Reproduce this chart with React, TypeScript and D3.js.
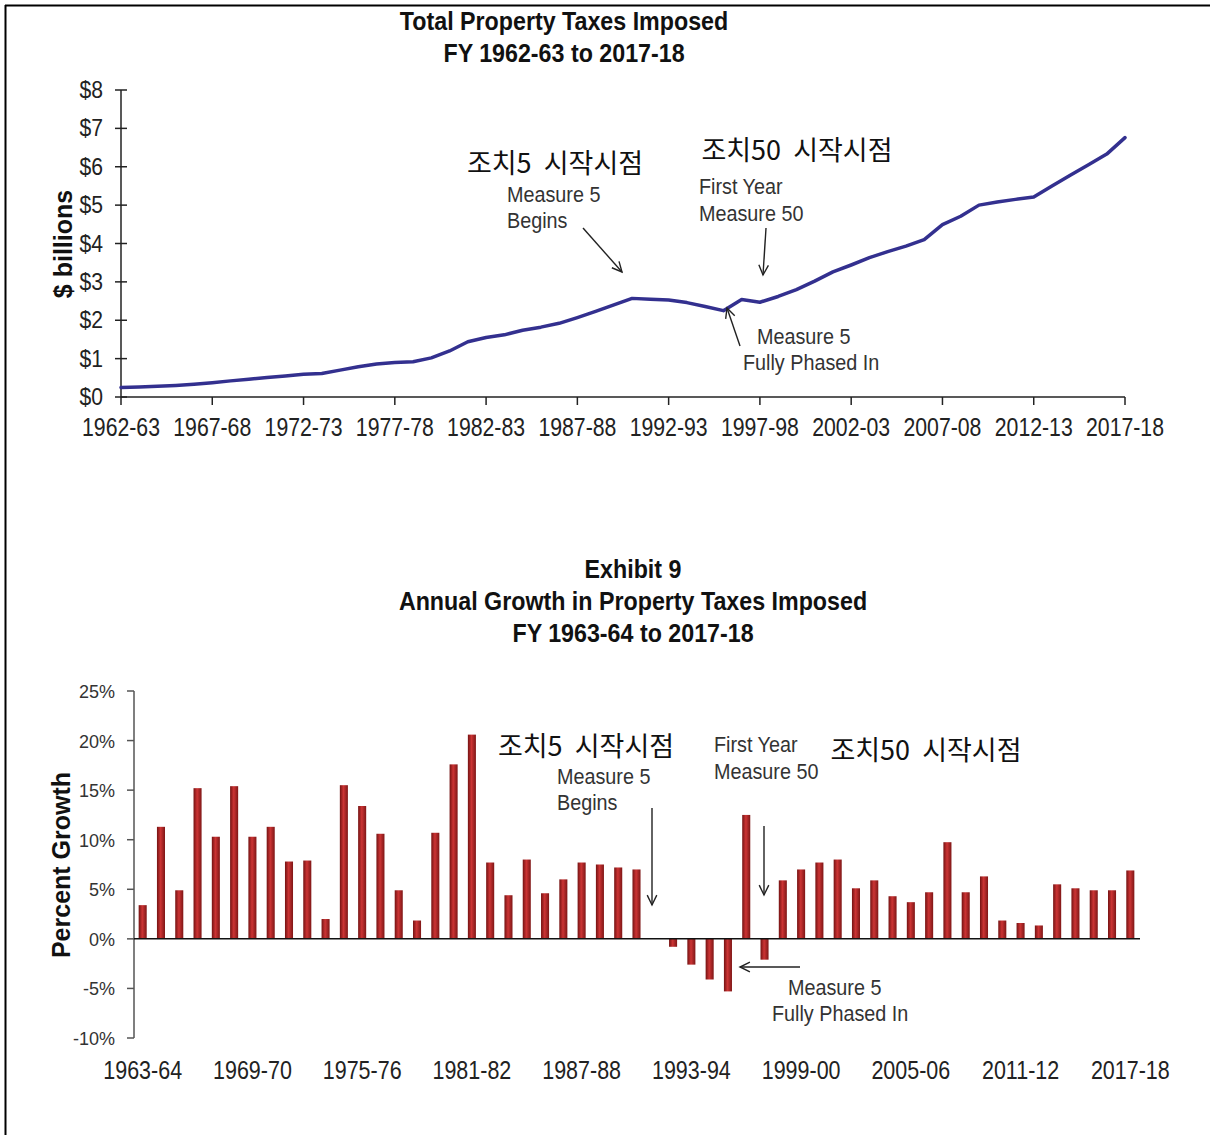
import React from "react";
import * as d3 from "d3";

// ---- Data ----
const totalYears: number[] = d3.range(1962, 2018);
const totalTaxes: number[] = [
  0.25, 0.26, 0.28, 0.3, 0.33, 0.37, 0.42, 0.46, 0.51, 0.55,
  0.59, 0.61, 0.7, 0.79, 0.86, 0.9, 0.92, 1.02, 1.2, 1.44,
  1.55, 1.62, 1.74, 1.82, 1.92, 2.07, 2.23, 2.4, 2.57, 2.55,
  2.53, 2.46, 2.36, 2.25, 2.54, 2.47, 2.62, 2.8, 3.02, 3.26,
  3.44, 3.63, 3.79, 3.93, 4.1, 4.49, 4.71, 5.0, 5.08, 5.15,
  5.21, 5.5, 5.78, 6.05, 6.33, 6.76,
];
const topTickYears: number[] = [1962, 1967, 1972, 1977, 1982, 1987, 1992, 1997, 2002, 2007, 2012, 2017];
const topYTicks: number[] = [0, 1, 2, 3, 4, 5, 6, 7, 8];

const growthYears: number[] = d3.range(1963, 2018);
const growthPct: number[] = [
  3.4, 11.3, 4.9, 15.2, 10.3, 15.4, 10.3, 11.3, 7.8, 7.9,
  2.0, 15.5, 13.4, 10.6, 4.9, 1.85, 10.7, 17.6, 20.6, 7.7,
  4.4, 8.0, 4.6, 6.0, 7.7, 7.5, 7.2, 7.0, 0.0, -0.8,
  -2.6, -4.1, -5.3, 12.5, -2.1, 5.9, 7.0, 7.7, 8.0, 5.1,
  5.9, 4.3, 3.7, 4.7, 9.75, 4.7, 6.3, 1.85, 1.6, 1.35,
  5.5, 5.1, 4.9, 4.9, 6.9,
];
const bottomTickYears: number[] = [1963, 1969, 1975, 1981, 1987, 1993, 1999, 2005, 2011, 2017];
const bottomYTicks: number[] = [-10, -5, 0, 5, 10, 15, 20, 25];

const fyLabel = (y: number) => `${y}-${String((y + 1) % 100).padStart(2, "0")}`;

const SANS = "'Liberation Sans', Arial, sans-serif";
const KR = "'Noto Sans CJK KR', 'Noto Sans CJK SC', sans-serif";

type NProps = {
  x: number;
  y: number;
  sx?: number;
  size: number;
  anchor?: "start" | "middle" | "end";
  bold?: boolean;
  fill?: string;
  children: React.ReactNode;
};
const NText = ({ x, y, sx = 0.85, size, anchor = "start", bold = false, fill = "#222", children }: NProps) => (
  <text
    transform={`translate(${x},${y}) scale(${sx},1)`}
    textAnchor={anchor}
    fontFamily={SANS}
    fontSize={size}
    fontWeight={bold ? "bold" : "normal"}
    fill={fill}
  >
    {children}
  </text>
);

const Arrow = ({ x1, y1, x2, y2 }: { x1: number; y1: number; x2: number; y2: number }) => {
  const ang = Math.atan2(y2 - y1, x2 - x1);
  const L = 11, w = 0.45;
  const a1 = [x2 - L * Math.cos(ang - w), y2 - L * Math.sin(ang - w)];
  const a2 = [x2 - L * Math.cos(ang + w), y2 - L * Math.sin(ang + w)];
  return (
    <g stroke="#222" strokeWidth={1.4} fill="none">
      <line x1={x1} y1={y1} x2={x2} y2={y2} />
      <polyline points={`${a1[0]},${a1[1]} ${x2},${y2} ${a2[0]},${a2[1]}`} />
    </g>
  );
};

const KText = ({ x, y, children }: { x: number; y: number; children: string }) => (
  <text x={x} y={y} textAnchor="middle" fontFamily={KR} fontSize={27} fill="#111" style={{ whiteSpace: "pre" }}>
    {children}
  </text>
);

export default function App() {
  const xTop = d3.scaleLinear().domain([1962, 2017]).range([121, 1125]);
  const yTop = d3.scaleLinear().domain([0, 8]).range([397, 90]);
  const line = d3
    .line<number>()
    .x((_, i) => xTop(totalYears[i]))
    .y((d) => yTop(d));

  const xBot = d3
    .scaleBand<number>()
    .domain(growthYears)
    .range([135, 1138])
    .paddingInner(0.56)
    .paddingOuter(0.2);
  const yBot = d3.scaleLinear().domain([-10, 25]).range([1038, 691]);
  const bw = xBot.bandwidth();

  return (
    <svg width={1210} height={1135} style={{ position: "absolute", left: 0, top: 0, background: "#fff" }}>
      <defs>
        <linearGradient id="barGrad" x1="0" x2="1" y1="0" y2="0">
          <stop offset="0" stopColor="#741212" />
          <stop offset="0.45" stopColor="#cc3434" />
          <stop offset="1" stopColor="#7e1616" />
        </linearGradient>
      </defs>
      <rect x={0} y={0} width={1210} height={1135} fill="#fff" />
      <line x1={5} y1={5.5} x2={1210} y2={5.5} stroke="#000" strokeWidth={2} />
      <line x1={5.5} y1={5} x2={5.5} y2={1135} stroke="#000" strokeWidth={2} />

      {/* ===== Top chart ===== */}
      <NText x={564} y={30} sx={0.93} size={25} anchor="middle" bold fill="#111">Total Property Taxes Imposed</NText>
      <NText x={564} y={62} sx={0.93} size={25} anchor="middle" bold fill="#111">FY 1962-63 to 2017-18</NText>

      <line x1={121} y1={90} x2={121} y2={397} stroke="#222" strokeWidth={1.5} />
      {topYTicks.map((t) => (
        <g key={"yt" + t}>
          <line x1={115} x2={127} y1={yTop(t)} y2={yTop(t)} stroke="#222" strokeWidth={1.5} />
          <NText x={103} y={yTop(t) + 8} sx={0.88} size={24} anchor="end">{`$${t}`}</NText>
        </g>
      ))}
      <text
        transform={`translate(72,244) rotate(-90)`}
        textAnchor="middle"
        fontFamily={SANS}
        fontWeight="bold"
        fontSize={25}
        fill="#111"
      >$ billions</text>

      <line x1={121} y1={397} x2={1125} y2={397} stroke="#222" strokeWidth={1.5} />
      {topTickYears.map((y) => (
        <g key={"xt" + y}>
          <line x1={xTop(y)} x2={xTop(y)} y1={397} y2={405} stroke="#222" strokeWidth={1.5} />
          <NText x={xTop(y)} y={436} sx={0.85} size={25} anchor="middle">{fyLabel(y)}</NText>
        </g>
      ))}
      <path d={line(totalTaxes) || ""} fill="none" stroke="#33308f" strokeWidth={3.5} strokeLinejoin="round" strokeLinecap="round" />

      <KText x={555} y={173}>{"조치5  시작시점"}</KText>
      <KText x={797} y={160}>{"조치50  시작시점"}</KText>
      <NText x={507} y={202} sx={0.9} size={22} fill="#333">Measure 5</NText>
      <NText x={507} y={228} sx={0.9} size={22} fill="#333">Begins</NText>
      <NText x={699} y={194} sx={0.9} size={22} fill="#333">First Year</NText>
      <NText x={699} y={221} sx={0.9} size={22} fill="#333">Measure 50</NText>
      <NText x={757} y={344} sx={0.9} size={22} fill="#333">Measure 5</NText>
      <NText x={743} y={370} sx={0.9} size={22} fill="#333">Fully Phased In</NText>
      <Arrow x1={583} y1={228} x2={622} y2={272} />
      <Arrow x1={766} y1={228} x2={763} y2={275} />
      <Arrow x1={740} y1={346} x2={727} y2={308} />

      {/* ===== Bottom chart ===== */}
      <NText x={633} y={578} sx={0.93} size={25} anchor="middle" bold fill="#111">Exhibit 9</NText>
      <NText x={633} y={610} sx={0.93} size={25} anchor="middle" bold fill="#111">Annual Growth in Property Taxes Imposed</NText>
      <NText x={633} y={642} sx={0.93} size={25} anchor="middle" bold fill="#111">FY 1963-64 to 2017-18</NText>

      {growthPct.map((v, i) => {
        const yr = growthYears[i];
        const y0 = yBot(0);
        const y1 = yBot(v);
        return (
          <rect
            key={"b" + yr}
            x={xBot(yr) as number}
            y={Math.min(y0, y1)}
            width={bw}
            height={Math.abs(y1 - y0)}
            fill="url(#barGrad)"
          />
        );
      })}
      <line x1={134} y1={691} x2={134} y2={1038} stroke="#555" strokeWidth={1.5} />
      {bottomYTicks.map((t) => (
        <g key={"byt" + t}>
          <line x1={127} x2={134} y1={yBot(t)} y2={yBot(t)} stroke="#555" strokeWidth={1.5} />
          <text x={115} y={yBot(t) + 7} textAnchor="end" fontFamily={SANS} fontSize={18} fill="#333">
            {`${t}%`}
          </text>
        </g>
      ))}
      <line x1={134} y1={yBot(0)} x2={1140} y2={yBot(0)} stroke="#111" strokeWidth={1.5} />
      <text
        transform={`translate(70,865) rotate(-90)`}
        textAnchor="middle"
        fontFamily={SANS}
        fontWeight="bold"
        fontSize={25}
        fill="#111"
      >Percent Growth</text>
      {bottomTickYears.map((y) => (
        <NText key={"bxt" + y} x={(xBot(y) as number) + bw / 2} y={1079} sx={0.86} size={25} anchor="middle">
          {fyLabel(y)}
        </NText>
      ))}

      <KText x={586} y={756}>{"조치5  시작시점"}</KText>
      <KText x={926} y={760}>{"조치50  시작시점"}</KText>
      <NText x={557} y={784} sx={0.9} size={22} fill="#333">Measure 5</NText>
      <NText x={557} y={810} sx={0.9} size={22} fill="#333">Begins</NText>
      <NText x={714} y={752} sx={0.9} size={22} fill="#333">First Year</NText>
      <NText x={714} y={779} sx={0.9} size={22} fill="#333">Measure 50</NText>
      <NText x={788} y={995} sx={0.9} size={22} fill="#333">Measure 5</NText>
      <NText x={772} y={1021} sx={0.9} size={22} fill="#333">Fully Phased In</NText>
      <Arrow x1={652} y1={808} x2={652} y2={905} />
      <Arrow x1={764} y1={826} x2={764} y2={895} />
      <Arrow x1={800} y1={967} x2={740} y2={967} />
    </svg>
  );
}
